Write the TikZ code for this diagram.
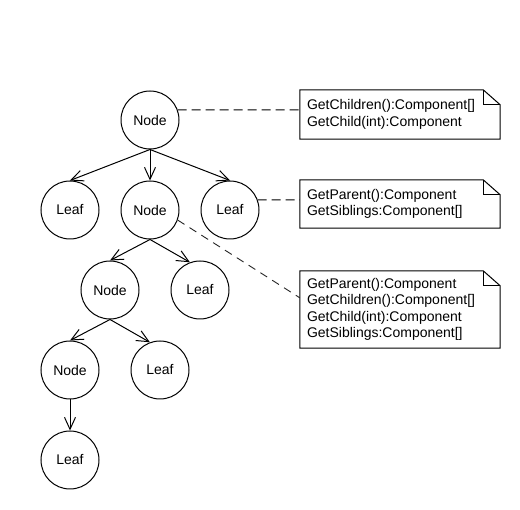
\documentclass[tikz,border=0pt]{standalone}
\usepackage{fontspec}
\setmainfont{Liberation Sans}
\usetikzlibrary{arrows.meta,calc}
\tikzset{
  tn/.style={circle,draw,line width=1pt,minimum size=58pt,inner sep=0pt,font=\fontsize{14}{16.5}\selectfont},
  edge/.style={line width=1pt,-{Straight Barb[length=12pt,width=11pt,line width=1pt]}},
  note/.style={inner xsep=7pt,inner ysep=0pt,minimum width=200pt,text width=186pt,align=left,font=\fontsize{14}{16.3}\selectfont},
  link/.style={line width=1pt,dash pattern=on 9pt off 5pt},
  link2/.style={line width=0.9pt,draw=black!85,dash pattern=on 8pt off 6pt}
}
\newcommand\drawnote[1]{%
  \draw[line width=1pt] (#1.north west) -- ($(#1.north east)+(-17,0)$) -- ($(#1.north east)+(0,15)$) -- (#1.south east) -- (#1.south west) -- cycle;
  \draw[line width=1pt] ($(#1.north east)+(-17,0)$) |- ($(#1.north east)+(0,15)$);}
\begin{document}
\begin{tikzpicture}[x=1pt,y=-1pt]
\useasboundingbox[fill=white] (0,0) rectangle (520,510);
% tree nodes
\node[tn] (root) at (150,120) {Node};
\node[tn] (l1) at (70,210) {Leaf};
\node[tn] (m1) at (150,210) {Node};
\node[tn] (r1) at (230,210) {Leaf};
\node[tn] (m2) at (110,290) {Node};
\node[tn] (r2) at (200,290) {Leaf};
\node[tn] (m3) at (70,370) {Node};
\node[tn] (r3) at (160,370) {Leaf};
\node[tn] (l4) at (70,460) {Leaf};
% edges
\draw[edge] (root.south) -- (l1.north);
\draw[edge] (root.south) -- (m1.north);
\draw[edge] (root.south) -- (r1.north);
\draw[edge] (m1.south) -- (m2.north);
\draw[edge] (m1.south) -- (r2.110);
\draw[edge] (m2.south) -- (m3.north);
\draw[edge] (m2.south) -- (r3.110);
\draw[edge] (m3.south) -- (l4.north);
% notes
\node[note,minimum height=49pt] (n1) at (400,114.5) {GetChildren():Component[]\\GetChild(int):Component};
\node[note,minimum height=48pt] (n2) at (400,204) {GetParent():Component\\GetSiblings:Component[]};
\node[note,minimum height=77pt] (n3) at (400,309.5) {GetParent():Component\\GetChildren():Component[]\\GetChild(int):Component\\GetSiblings:Component[]};
\drawnote{n1}
\drawnote{n2}
\drawnote{n3}
% dashed links
\coordinate (a1) at ($(n1.north west)+(0,20)$);
\coordinate (a2) at ($(n2.north west)+(0,20)$);
\coordinate (a3) at ($(n3.north west)+(0,27)$);
\draw[link] (root.20) -- (a1);
\draw[link] (r1.20) -- (a2);
\draw[link2] (m1.340) -- (a3);
\end{tikzpicture}
\end{document}
